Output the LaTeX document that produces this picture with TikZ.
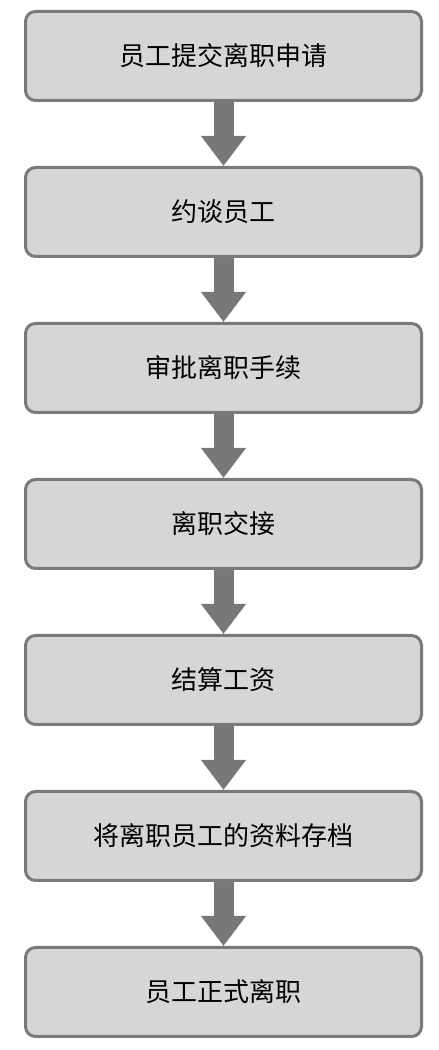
\documentclass[tikz,border=0pt]{standalone}
\usepackage{fontspec}
\newfontfamily\cjk{Noto Sans CJK SC}
\usetikzlibrary{arrows.meta, positioning}

\definecolor{boxfill}{RGB}{214,214,214}
\definecolor{boxline}{RGB}{122,122,122}
\definecolor{flowgray}{RGB}{120,120,120}

\begin{document}
\begin{tikzpicture}[
    x=1pt, y=1pt,
    node distance=64pt,
    stepbox/.style={draw=boxline, line width=3pt, rectangle, rounded corners=10pt,
        fill=boxfill, minimum width=396pt, minimum height=89pt, align=center,
        font=\cjk\fontsize{26pt}{31pt}\selectfont},
    flow/.style={draw=flowgray, line width=20pt,
        -{Triangle[length=30pt, width=43pt]}}
]
\useasboundingbox (0,0) rectangle (439,1050);

% Các bước
\node[stepbox] (submit) at (223.5,994) {员工提交离职申请};
\node[stepbox, below=of submit] (talk) {约谈员工};
\node[stepbox, below=of talk] (approve) {审批离职手续};
\node[stepbox, below=of approve] (handover) {离职交接};
\node[stepbox, below=of handover] (salary) {结算工资};
\node[stepbox, below=of salary] (archive) {将离职员工的资料存档};
\node[stepbox, below=of archive] (leave) {员工正式离职};

% Mũi tên
\draw[flow] (submit.south) -- (talk.north);
\draw[flow] (talk.south) -- (approve.north);
\draw[flow] (approve.south) -- (handover.north);
\draw[flow] (handover.south) -- (salary.north);
\draw[flow] (salary.south) -- (archive.north);
\draw[flow] (archive.south) -- (leave.north);

\end{tikzpicture}
\end{document}
